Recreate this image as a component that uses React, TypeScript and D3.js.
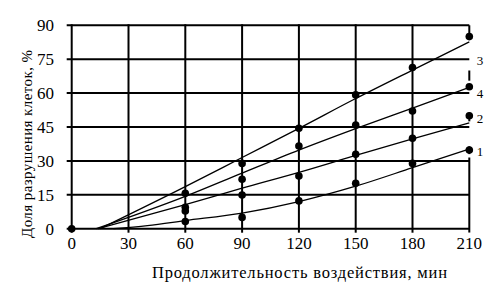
import React from "react";
import * as d3 from "d3";

const W = 496;
const H = 302;

const xTicks = [0, 30, 60, 90, 120, 150, 180, 210];
const yTicks = [0, 15, 30, 45, 60, 75, 90];

// measured points [minutes, %]
const pointX = [0, 60, 60, 60, 60, 90, 90, 90, 90, 120, 120, 120, 120, 150, 150, 150, 150, 180, 180, 180, 180, 210, 210, 210, 210];
const pointY = [0, 15.7, 9.5, 7.8, 3.2, 28.9, 21.9, 14.9, 5.0, 44.4, 36.6, 23.3, 12.3, 59.2, 45.9, 32.9, 20.1, 71.3, 52.1, 40.0, 28.9, 85.0, 62.8, 50.0, 34.8];

// fitted curves
const curve3X = [15, 60, 90, 120, 150, 180, 210];
const curve3Y = [0, 18.6, 31.5, 44.4, 57.6, 70.2, 82.7];
const curve4X = [13, 60, 90, 120, 150, 180, 210];
const curve4Y = [0, 14.3, 24.6, 34.8, 44.3, 53.4, 62.5];
const curve2X = [14, 60, 90, 120, 150, 180, 210];
const curve2Y = [0, 10.7, 17.9, 24.9, 32.4, 39.8, 46.8];
const curve1X = [22, 40, 60, 90, 120, 150, 180, 210];
const curve1Y = [0, 1.4, 3.6, 6.9, 12.0, 18.8, 27.0, 35.3];

const curveNames = ["3", "4", "2", "1"];
const curveLabelY = [74.6, 60, 49, 34];

// visible pieces of the right frame line (value ranges)
const rightEdgeFrom = [86, 65.5, 47.5, 33, -1.7];
const rightEdgeTo = [90, 70, 51.5, 36.5, 31.5];

const xLabel = "Продолжительность воздействия, мин";
const yLabel = "Доля разрушения клеток, %";

const FONT = '"Liberation Serif", "DejaVu Serif", "Times New Roman", serif';

export default function App() {
  const x = d3.scaleLinear().domain([0, 210]).range([71.7, 469.3]);
  const y = d3.scaleLinear().domain([0, 90]).range([228.7, 25.3]);

  const line = d3
    .line<[number, number]>()
    .x((d) => x(d[0]))
    .y((d) => y(d[1]))
    .curve(d3.curveMonotoneX);

  const curves = [
    d3.zip(curve3X, curve3Y) as [number, number][],
    d3.zip(curve4X, curve4Y) as [number, number][],
    d3.zip(curve2X, curve2Y) as [number, number][],
    d3.zip(curve1X, curve1Y) as [number, number][],
  ];

  const gridW = 2;
  const ts = { fontFamily: FONT };

  return (
    <svg
      width={W}
      height={H}
      style={{ position: "absolute", left: 0, top: 0, background: "#fff", fontFamily: FONT }}
    >
      <rect x={0} y={0} width={W} height={H} fill="#fff" />
      {yTicks.map((t) => (
        <line
          key={"h" + t}
          x1={x(0) - 5}
          x2={x(210)}
          y1={y(t)}
          y2={y(t)}
          stroke="#000"
          strokeWidth={gridW}
        />
      ))}
      {xTicks.slice(0, -1).map((t) => (
        <line
          key={"v" + t}
          x1={x(t)}
          x2={x(t)}
          y1={y(90) - 1}
          y2={y(0) + 4}
          stroke="#000"
          strokeWidth={gridW}
        />
      ))}
      {rightEdgeFrom.map((f, i) => (
        <line
          key={"r" + i}
          x1={x(210)}
          x2={x(210)}
          y1={y(rightEdgeTo[i])}
          y2={y(f)}
          stroke="#000"
          strokeWidth={gridW}
        />
      ))}
      {curves.map((c, i) => (
        <path key={"c" + i} d={line(c) || ""} fill="none" stroke="#000" strokeWidth={1.3} />
      ))}
      {pointX.map((px, i) => (
        <circle key={"p" + i} cx={x(px)} cy={y(pointY[i])} r={3.8} fill="#000" />
      ))}
      {yTicks.map((t) => (
        <text
          key={"yt" + t}
          x={54}
          y={y(t)}
          dy="0.35em"
          textAnchor="end"
          fontSize={17}
          fill="#000"
          style={ts}
        >
          {t}
        </text>
      ))}
      {xTicks.map((t) => (
        <text key={"xt" + t} x={x(t)} y={249} textAnchor="middle" fontSize={17} fill="#000" style={ts}>
          {t}
        </text>
      ))}
      {curveNames.map((n, i) => (
        <text
          key={"cl" + n}
          x={480}
          y={y(curveLabelY[i])}
          dy="0.35em"
          textAnchor="middle"
          fontSize={13}
          fill="#000"
          style={ts}
        >
          {n}
        </text>
      ))}
      <text
        x={152}
        y={278}
        fontSize={16.5}
        textLength={295}
        lengthAdjust="spacing"
        fill="#000"
        style={ts}
      >
        {xLabel}
      </text>
      <text
        transform="translate(32,238) rotate(-90)"
        x={0}
        y={0}
        fontSize={15}
        textLength={188}
        lengthAdjust="spacing"
        fill="#000"
        style={ts}
      >
        {yLabel}
      </text>
    </svg>
  );
}
